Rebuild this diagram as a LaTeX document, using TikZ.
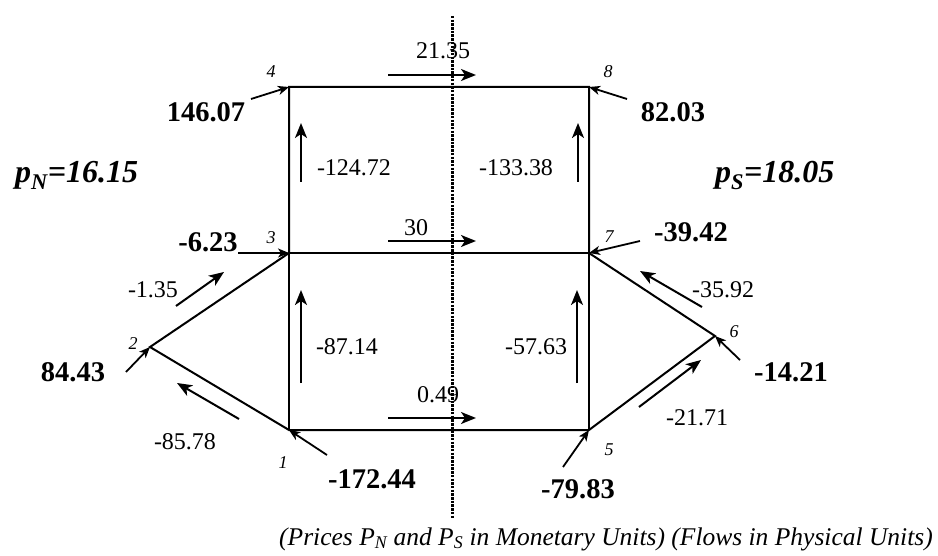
\documentclass[tikz,border=0pt]{standalone}
\usepackage{fontspec}
\setmainfont{Liberation Serif}
\usetikzlibrary{arrows.meta}
\tikzset{
  edge/.style={line width=2pt},
  flow/.style={line width=2pt, -{Stealth[length=15pt,width=12pt,inset=4pt]}},
  supply/.style={line width=1.8pt, -{Stealth[length=11pt,width=9pt,inset=3pt]}},
  flowlabel/.style={inner sep=0pt, font=\fontsize{24}{26}\selectfont},
  supplylabel/.style={inner sep=0pt, font=\fontsize{28.5}{30}\selectfont\bfseries},
  nodenum/.style={inner sep=0pt, font=\fontsize{18}{20}\selectfont\itshape},
  price/.style={inner sep=0pt, font=\fontsize{32}{34}\selectfont\bfseries\itshape},
  divider/.style={line width=3pt, dash pattern=on 2.5pt off 1.2pt}
}

\begin{document}
\begin{tikzpicture}[x=1pt, y=-1pt]
    \useasboundingbox (0,0) rectangle (938,556);

    \coordinate (n1) at (289,430);
    \coordinate (n2) at (150,347);
    \coordinate (n3) at (289,253);
    \coordinate (n4) at (289,87);
    \coordinate (n5) at (589,430);
    \coordinate (n6) at (715,336);
    \coordinate (n7) at (589,253);
    \coordinate (n8) at (589,87);

    \draw[edge] (n1) -- (n2) -- (n3) -- (n4) -- (n8) -- (n7) -- (n6) -- (n5) -- cycle;
    \draw[edge] (n1) -- (n3) -- (n7) -- (n5);

    \node[nodenum] (num1) at (283,463) {1};
    \node[nodenum] (num2) at (133,344) {2};
    \node[nodenum] (num3) at (271,238) {3};
    \node[nodenum] (num4) at (271,72) {4};
    \node[nodenum] (num5) at (609,450) {5};
    \node[nodenum] (num6) at (734,332) {6};
    \node[nodenum] (num7) at (609,237) {7};
    \node[nodenum] (num8) at (608,72) {8};

    \node[supplylabel] (sup1) at (372,479) {-172.44};
    \node[supplylabel] (sup2) at (73,372) {84.43};
    \node[supplylabel] (sup3) at (208,242) {-6.23};
    \node[supplylabel] (sup4) at (206,112) {146.07};
    \node[supplylabel] (sup5) at (578,489) {-79.83};
    \node[supplylabel] (sup6) at (791,372) {-14.21};
    \node[supplylabel] (sup7) at (691,232) {-39.42};
    \node[supplylabel] (sup8) at (673,112) {82.03};

    \coordinate (s1) at (327,455);
    \coordinate (s2) at (126,372);
    \coordinate (s3) at (238,253);
    \coordinate (s4) at (251,99);
    \coordinate (s5) at (563,467);
    \coordinate (s6) at (740,360);
    \coordinate (s7) at (640,241);
    \coordinate (s8) at (627,99);
    \foreach \i in {1,...,8}
        \draw[supply] (s\i) -- (n\i);

    \draw[flow] (388,75) -- (476,75);
    \node[flowlabel] (f48) at (443,51) {21.35};
    \draw[flow] (388,241) -- (476,241);
    \node[flowlabel] (f37) at (416,228) {30};
    \draw[flow] (388,418) -- (476,418);
    \node[flowlabel] (f15) at (438,395) {0.49};
    \draw[flow] (301,182) -- (301,123);
    \node[flowlabel] (f34) at (354,168) {-124.72};
    \draw[flow] (301,383) -- (301,290);
    \node[flowlabel] (f13) at (347,347) {-87.14};
    \draw[flow] (578,182) -- (578,123);
    \node[flowlabel] (f78) at (516,168) {-133.38};
    \draw[flow] (577,383) -- (577,290);
    \node[flowlabel] (f57) at (536,347) {-57.63};
    \draw[flow] (176,306) -- (224,272);
    \node[flowlabel] (f23) at (153,290) {-1.35};
    \draw[flow] (239,419) -- (177,383);
    \node[flowlabel] (f12) at (185,442) {-85.78};
    \draw[flow] (702,307) -- (640,271);
    \node[flowlabel] (f67) at (723,290) {-35.92};
    \draw[flow] (639,407) -- (701,360);
    \node[flowlabel] (f56) at (697,418) {-21.71};

    \node[price, anchor=base west] (pN) at (15,183) {p\textsubscript{N}=16.15};
    \node[price, anchor=base west] (pS) at (715,183) {p\textsubscript{S}=18.05};

    \coordinate (dtop) at (452,16);
    \coordinate (dbot) at (452,518);
    \draw[divider] (dtop) -- (dbot);

    \node[inner sep=0pt, anchor=base east, font=\fontsize{25.5}{27}\selectfont\itshape] (caption) at (933,545)
        {(Prices P\textsubscript{N} and P\textsubscript{S} in Monetary Units) (Flows in Physical Units)};
\end{tikzpicture}
\end{document}
